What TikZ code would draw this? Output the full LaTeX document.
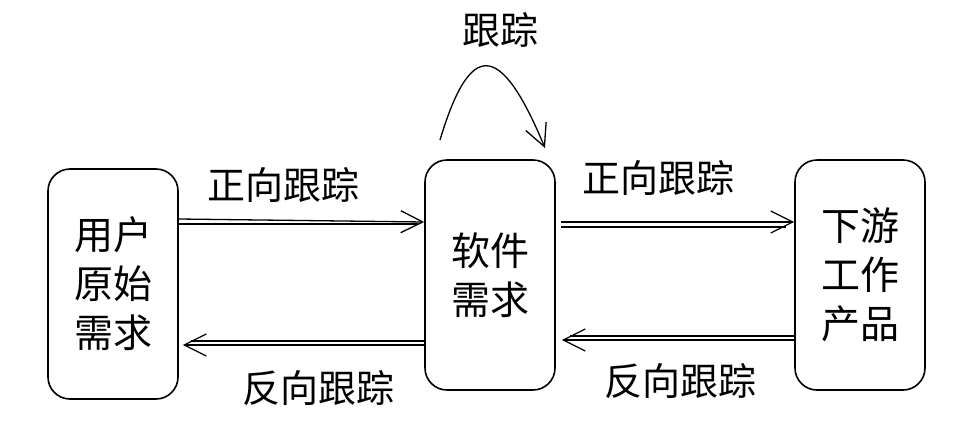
\documentclass[tikz,border=0pt]{standalone}
\usepackage{fontspec}
\setmainfont{Noto Sans CJK SC}
\usetikzlibrary{arrows.meta}
\begin{document}
\begin{tikzpicture}[x=1pt,y=-1pt,
  box/.style={draw,line width=1.6pt,rounded corners=22pt,minimum width=130pt,minimum height=230pt,align=center,font=\fontsize{39}{49}\selectfont},
  lab/.style={font=\fontsize{38}{44}\selectfont},
  arr/.style={line width=1.3pt,-{Straight Barb[length=22pt,width=22pt,line width=1.3pt]}}]
\useasboundingbox (0,0) rectangle (972,442);
\node[box] (a) at (113,284) {用户\\原始\\需求};
\node[box] (b) at (490,275) {软件\\需求};
\node[box] (c) at (860,275) {下游\\工作\\产品};
\draw[arr] (a.east|-0,219) -- (b.west|-0,222);
\draw[line width=1.3pt] (a.east|-0,224) -- ([xshift=-6pt]b.west|-0,224);
\draw[arr] (b.west|-0,345) -- ([xshift=4pt]a.east|-0,345);
\draw[line width=1.3pt] (b.west|-0,341) -- ([xshift=12pt]a.east|-0,341);
\draw[arr] ([xshift=5pt]b.east|-0,222) -- (c.west|-0,222);
\draw[line width=1.3pt] ([xshift=5pt]b.east|-0,227) -- ([xshift=-8pt]c.west|-0,227);
\draw[arr] (c.west|-0,340) -- ([xshift=6pt]b.east|-0,340);
\draw[line width=1.3pt] (c.west|-0,336) -- ([xshift=14pt]b.east|-0,336);
\node[lab] (l1) at (283,185) {正向跟踪};
\node[lab] (l2) at (318,388) {反向跟踪};
\node[lab] (l3) at (658,178) {正向跟踪};
\node[lab] (l4) at (680,381) {反向跟踪};
\node[lab] (l5) at (500,30) {跟踪};
\coordinate (s) at (440,140);
\coordinate (e) at (545,148);
\draw[arr] (s) .. controls (470,40) and (500,40) .. (e);
\end{tikzpicture}
\end{document}
